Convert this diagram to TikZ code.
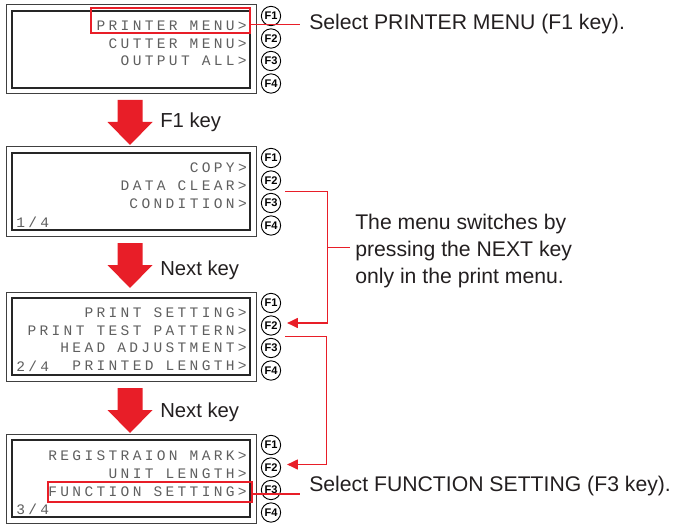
\documentclass[tikz,border=0pt]{standalone}
\usepackage{fontspec}
\setmainfont{Liberation Sans}
\newfontfamily\lcdfont[LetterSpace=23]{Liberation Mono}
\usetikzlibrary{arrows.meta,positioning,calc}
\definecolor{SelRed}{RGB}{232,30,40}
\definecolor{LcdInk}{RGB}{95,95,95}
\definecolor{NoteInk}{RGB}{35,31,32}
\tikzset{
  panel/.style={rectangle, draw=black!75, line width=0.75pt, fill=white,
    minimum width=187.5pt, minimum height=66.75pt, inner sep=0pt},
  lcd/.style={rectangle, draw=black!85, line width=1.9pt,
    minimum width=178.5pt, minimum height=57.75pt, inner sep=0pt},
  fkey/.style={circle, draw=black, line width=0.7pt, minimum size=14.5pt, inner sep=0pt,
    font=\bfseries\fontsize{8.3}{9}\selectfont},
  lcdtext/.style={anchor=east, inner sep=0pt, yshift=-1.5pt, text=LcdInk,
    font=\lcdfont\fontsize{10.9}{12}\selectfont},
  pick/.style={rectangle, draw=SelRed, line width=0.8pt, inner sep=0pt},
  note/.style={inner sep=0pt, text=NoteInk, align=left, font=\fontsize{15.9}{20.25}\selectfont},
  steplabel/.style={note, font=\fontsize{15.2}{18}\selectfont},
  lead/.style={draw=SelRed, line width=0.8pt},
  leadarrow/.style={lead, -{Triangle[length=8pt, width=7.5pt]}},
  stepred/.style={fill=SelRed}
}

\begin{document}
\begin{tikzpicture}[x=0.75pt, y=-0.75pt]
  \useasboundingbox (0,0) rectangle (674,524);
  % panels with their function keys
  \foreach \s/\t in {1/5, 2/147, 3/292, 4/434} {
    \node[panel] (s\s) at (131,\t+44.5) {};
    \node[lcd] (lcd\s) at (131,\t+44.5) {};
    \foreach \k in {1,...,4}
      \node[fkey] (k\s-\k) at (271,\t+11+22.5*\k-22.5) {F\k};
  }
  % menu lines
  \node[lcdtext] (m1-1) at (247,23.5) {PRINTER MENU>};
  \node[lcdtext] (m1-2) at (247,41.3) {CUTTER MENU>};
  \node[lcdtext] (m1-3) at (247,59.1) {OUTPUT ALL>};
  \node[lcdtext] (m2-1) at (247,166) {COPY>};
  \node[lcdtext] (m2-2) at (247,184) {DATA CLEAR>};
  \node[lcdtext] (m2-3) at (247,202) {CONDITION>};
  \node[lcdtext, anchor=west] (p2) at (16,220) {1/4};
  \node[lcdtext] (m3-1) at (247,310.5) {PRINT SETTING>};
  \node[lcdtext] (m3-2) at (247,328.3) {PRINT TEST PATTERN>};
  \node[lcdtext] (m3-3) at (247,346.1) {HEAD ADJUSTMENT>};
  \node[lcdtext] (m3-4) at (247,363.9) {PRINTED LENGTH>};
  \node[lcdtext, anchor=west] (p3) at (16,363.9) {2/4};
  \node[lcdtext] (m4-1) at (247,454) {REGISTRAION MARK>};
  \node[lcdtext] (m4-2) at (247,472) {UNIT LENGTH>};
  \node[lcdtext] (m4-3) at (247,490) {FUNCTION SETTING>};
  \node[lcdtext, anchor=west] (p4) at (16,507.5) {3/4};
  % selections
  \node[pick, minimum width=119.25pt, minimum height=18.75pt] (sel1) at (170.5,20.5) {};
  \node[pick, minimum width=153pt, minimum height=15pt] (sel4) at (150,492) {};
  % step arrows
  \foreach \y in {100,243,388}
    \fill[stepred] (117.5,\y) -- (142.5,\y) -- (142.5,\y+22) -- (152.5,\y+22)
      -- (130,\y+45) -- (107.5,\y+22) -- (117.5,\y+22) -- cycle;
  \node[steplabel, anchor=base west] (t1) at (160,128) {F1 key};
  \node[steplabel, anchor=base west] (t2) at (160,275) {Next key};
  \node[steplabel, anchor=base west] (t3) at (160,417) {Next key};
  % notes
  \node[note, anchor=base west] (n1) at (309,30) {Select PRINTER MENU (F1 key).};
  \node[note, anchor=west] (n2) at (355,251) {The menu switches by\\pressing the NEXT key\\only in the print menu.};
  \node[note, anchor=base west] (n4) at (309,491) {Select FUNCTION SETTING (F3 key).};
  \draw[lead] (sel1.east |- n1.west) -- ($(n1.west)+(-9,0)$);
  \draw[lead] ($(sel4.east)+(0,2)$) -- ($(sel4.east -| n4.west)+(-9,2)$);
  % next key brackets
  \coordinate (b1s) at ($(k2-2.east)!0.5!(k2-3.east)+(4,0)$);
  \coordinate (b1e) at ($(k3-2.east)+(6,-2.5)$);
  \coordinate (b1m) at ($(b1s)+(42,56)$);
  \draw[leadarrow] (b1s) -- ++(42,0) |- (b1e);
  \draw[lead] (b1m) -- ++(23,0);
  \coordinate (b2s) at ($(k3-2.east)!0.5!(k3-3.east)+(4,0)$);
  \coordinate (b2e) at ($(k4-2.east)+(6,-3)$);
  \draw[leadarrow] (b2s) -- ++(41,0) |- (b2e);
\end{tikzpicture}
\end{document}
